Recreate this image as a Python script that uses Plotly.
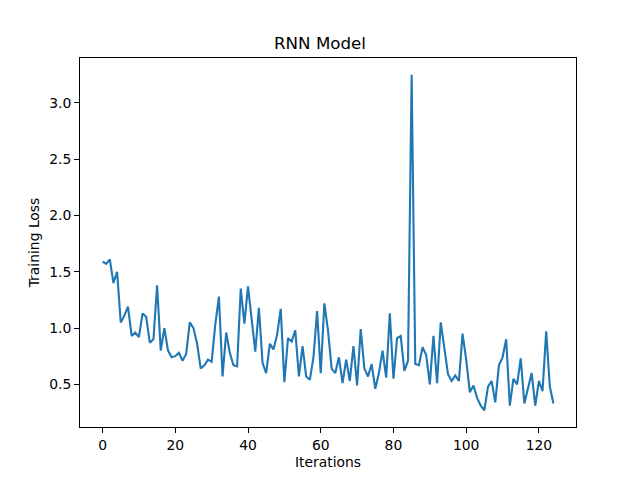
import plotly.graph_objects as go

iterations = list(range(125))
loss = [1.59, 1.57, 1.61, 1.40, 1.50, 1.05, 1.11, 1.19, 0.93, 0.96,
        0.92, 1.13, 1.10, 0.87, 0.90, 1.38, 0.80, 1.00, 0.80, 0.74,
        0.75, 0.78, 0.71, 0.77, 1.05, 1.00, 0.86, 0.64, 0.67, 0.72,
        0.70, 1.03, 1.28, 0.57, 0.96, 0.78, 0.67, 0.66, 1.35, 1.04,
        1.37, 1.07, 0.79, 1.18, 0.69, 0.60, 0.86, 0.81, 0.94, 1.17,
        0.52, 0.91, 0.88, 0.98, 0.57, 0.84, 0.57, 0.54, 0.74, 1.15,
        0.60, 1.22, 0.98, 0.64, 0.60, 0.74, 0.51, 0.72, 0.53, 0.84,
        0.49, 0.99, 0.64, 0.57, 0.68, 0.46, 0.60, 0.80, 0.56, 1.13,
        0.55, 0.91, 0.93, 0.62, 0.71, 3.25, 0.68, 0.67, 0.83, 0.76,
        0.50, 0.93, 0.51, 1.05, 0.82, 0.59, 0.53, 0.58, 0.53, 0.95,
        0.72, 0.43, 0.49, 0.38, 0.31, 0.27, 0.48, 0.53, 0.34, 0.67,
        0.74, 0.90, 0.31, 0.55, 0.50, 0.73, 0.33, 0.46, 0.60, 0.31,
        0.53, 0.44, 0.97, 0.48, 0.33]
x_ticks = [0, 20, 40, 60, 80, 100, 120]
y_ticks = [0.5, 1.0, 1.5, 2.0, 2.5, 3.0]

xmin, xmax = min(iterations), max(iterations)
ymin, ymax = min(loss), max(loss)
xpad = (xmax - xmin) * 0.05
ypad = (ymax - ymin) * 0.05

fig = go.Figure(go.Scatter(x=iterations, y=loss, mode="lines",
                           line=dict(color="#1f77b4", width=2.1)))

font = dict(family="DejaVu Sans", size=13.9, color="black")
axis_common = dict(showgrid=False, zeroline=False, showline=True, mirror=True,
                   linecolor="black", linewidth=1, ticks="outside", ticklen=4.9,
                   tickwidth=1, tickcolor="black", tickfont=font)

fig.update_layout(
    width=640, height=480,
    margin=dict(l=80, r=64, t=58, b=53),
    paper_bgcolor="white", plot_bgcolor="white",
    showlegend=False,
    font=font,
    title=dict(text="RNN Model", x=0.5, xanchor="center", y=1 - 43/480, yanchor="middle",
               font=dict(family="DejaVu Sans", size=16.7, color="black")),
    xaxis=dict(range=[xmin - xpad, xmax + xpad], tickvals=x_ticks,
               title=dict(text="Iterations", font=font, standoff=5), **axis_common),
    yaxis=dict(range=[ymin - ypad, ymax + ypad], tickvals=y_ticks,
               ticktext=[f"{v:.1f}" for v in y_ticks],
               title=dict(text="Training Loss", font=font, standoff=6), **axis_common),
)

fig.write_html("out.html")
